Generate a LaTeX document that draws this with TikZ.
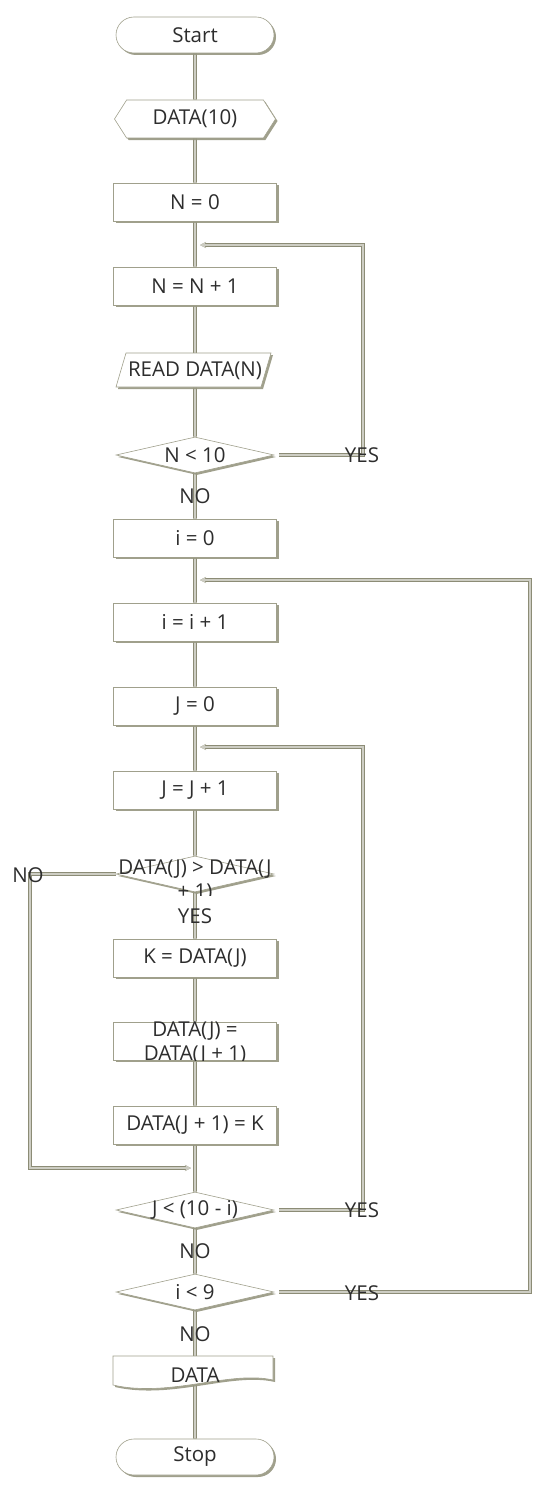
\documentclass[tikz,border=0pt]{standalone}
\usepackage{fontspec}
\setmainfont{Open Sans}
\usetikzlibrary{shapes.geometric,shapes.symbols,shapes.misc,shadows,arrows.meta,backgrounds,calc}

\definecolor{flowdark}{RGB}{140,140,118}
\definecolor{flowlight}{RGB}{205,205,195}
\definecolor{edge}{RGB}{160,160,140}
\definecolor{shade}{RGB}{150,150,128}
\definecolor{ink}{RGB}{45,45,45}

\tikzset{
  base/.style={draw=edge, line width=0.6pt, fill=white, text=ink, inner sep=0pt,
    drop shadow={shadow xshift=2pt, shadow yshift=-2pt, fill=shade, opacity=0.9}},
  term/.style={base, rounded rectangle, minimum width=158pt, minimum height=36pt},
  prep/.style={base, signal, signal to=west and east, signal pointer angle=115,
    minimum width=161pt, minimum height=38pt},
  box/.style={base, rectangle, minimum width=163pt, minimum height=38pt},
  cond/.style={base, diamond, minimum width=158pt, minimum height=36pt},
  plain/.style={draw=edge, line width=0.6pt, fill=white},
  shadowfill/.style={fill=shade, opacity=0.9, shift={(2pt,-2pt)}},
  txt/.style={text=ink, inner sep=0pt},
  flow/.style={draw=flowlight, line width=1.6pt, line cap=butt,
    preaction={draw=flowdark, line width=3.8pt}},
  tip/.style={-{Stealth[length=6pt,width=6pt]}}
}

\begin{document}
\begin{tikzpicture}[x=1pt,y=-1pt,font=\fontsize{20.5}{24}\selectfont]
  \useasboundingbox (0,0) rectangle (550,1501);
  \def\cx{195}

  % blocks
  \node[term] (start) at (\cx,35) {Start};
  \node[prep] (prep) at (\cx,119) {DATA(10)};
  \node[box] (setn) at (\cx,202) {N = 0};
  \node[box] (incn) at (\cx,286) {N = N + 1};
  % input (parallelogram)
  \fill[shadowfill] (116,387) -- (126,353) -- (271,353) -- (261,387) -- cycle;
  \draw[plain] (116,387) -- (126,353) -- (271,353) -- (261,387) -- cycle;
  \node[txt] (readn) at (\cx,371) {READ DATA(N)};
  \node[cond] (chkn) at (\cx,455) {};
  \node[txt] (chknt) at (chkn) {N < 10};
  \node[box] (seti) at (\cx,538) {i = 0};
  \node[box] (inci) at (\cx,622) {i = i + 1};
  \node[box] (setj) at (\cx,706) {J = 0};
  \node[box] (incj) at (\cx,790) {J = J + 1};
  \node[cond] (cmp) at (\cx,874) {};
  \begin{scope}
    \clip (90,850) rectangle (300,895);
    \node[txt, align=center] (cmpt) at (\cx,881) {DATA(J) > DATA(J\\+ 1)};
  \end{scope}
  \node[box] (savek) at (\cx,958) {K = DATA(J)};
  \node[box] (swap) at (\cx,1041) {};
  \begin{scope}
    \clip (swap.south west) rectangle (swap.north east);
    \node[txt, align=center] (swapt) at (\cx,1043) {DATA(J) =\\DATA(J + 1)};
  \end{scope}
  \node[box] (putk) at (\cx,1125) {DATA(J + 1) = K};
  \node[cond] (chkj) at (\cx,1210) {};
  \node[txt] (chkjt) at (chkj) {J < (10 - i)};
  \node[cond] (chki) at (\cx,1292) {};
  \node[txt] (chkit) at (chki) {i < 9};

  % output (document with wavy bottom)
  \fill[shadowfill] (113,1356) -- (273,1356) -- (273,1380)
    .. controls (230,1370) and (170,1398) .. (113,1385) -- cycle;
  \draw[plain] (113,1356) -- (273,1356) -- (273,1380)
    .. controls (230,1370) and (170,1398) .. (113,1385) -- cycle;
  \node[txt] (outd) at (\cx,1375) {DATA};
  \node[term] (stop) at (\cx,1457) {Stop};

  % corners and joins of the loops
  \coordinate (c1) at (363,455);
  \coordinate (j1) at (200,245);
  \coordinate (c2) at (530,1292);
  \coordinate (j2) at (200,580);
  \coordinate (c3) at (363,1210);
  \coordinate (j3) at (200,747);
  \coordinate (c4) at (30,874);
  \coordinate (j4) at (191,1168);

  \begin{scope}[on background layer]
    \draw[flow] (start) -- (prep) -- (setn) -- (incn) -- (readn.center) -- (chkn) -- (seti)
      -- (inci) -- (setj) -- (incj) -- (cmp) -- (savek) -- (swap) -- (putk)
      -- (chkj) -- (chki) -- (outd.center) -- (stop);
    \draw[flow,tip] ([xshift=5pt]chkn.east) -- (c1) |- (j1);
    \draw[flow,tip] ([xshift=5pt]chki.east) -- (c2) |- (j2);
    \draw[flow,tip] ([xshift=5pt]chkj.east) -- (c3) |- (j3);
    \draw[flow,tip] (cmp.west) -- (c4) |- (j4);
  \end{scope}

  % labels of the branches
  \node[txt] (yes1) at (362,455) {YES};
  \node[txt] (no1) at (\cx,496) {NO};
  \node[txt] (no2) at (28,875) {NO};
  \node[txt] (yes2) at (\cx,916) {YES};
  \node[txt] (yes3) at (362,1210) {YES};
  \node[txt] (no3) at (\cx,1251) {NO};
  \node[txt] (yes4) at (362,1293) {YES};
  \node[txt] (no4) at (\cx,1334) {NO};
\end{tikzpicture}
\end{document}
